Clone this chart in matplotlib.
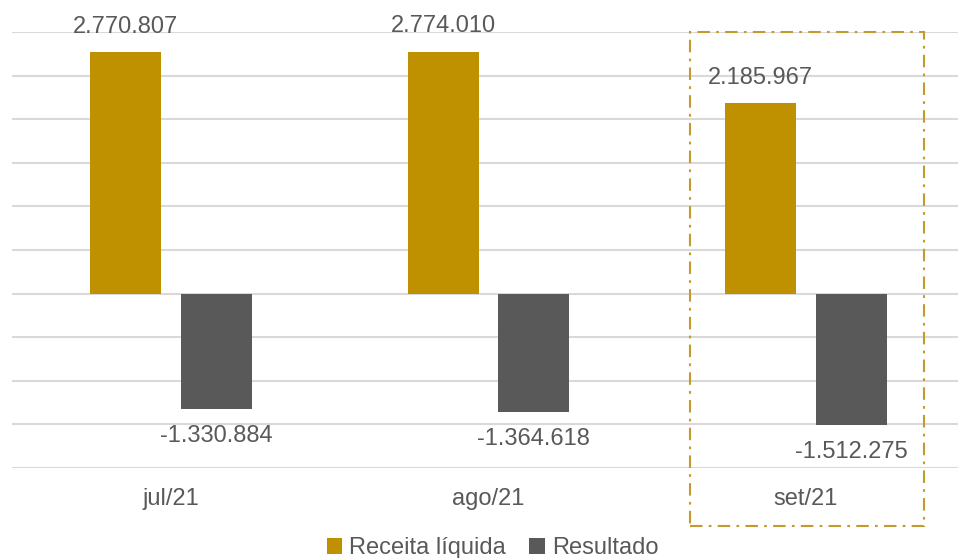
import matplotlib
matplotlib.use("Agg")
import matplotlib.pyplot as plt
from matplotlib.patches import Patch, Rectangle
import numpy as np

categories = ["jul/21", "ago/21", "set/21"]
receita = [2770807, 2774010, 2185967]
resultado = [-1330884, -1364618, -1512275]
series_names = ["Receita líquida", "Resultado"]

GOLD = "#BF9000"
GRAY = "#595959"
TEXT = "#595959"

def fmt(v):
    s = f"{abs(v):,}".replace(",", ".")
    return ("-" if v < 0 else "") + s

plt.rcParams["font.family"] = ["Liberation Sans", "DejaVu Sans"]

W, H = 958, 558
fig = plt.figure(figsize=(W / 100, H / 100), dpi=100)
# axes in pixel coords: x 12.3..964.75, y 32.3..467.7
x0, x1 = 12.3, 964.75
y0, y1 = 32.3, 467.7
ax = fig.add_axes([x0 / W, 1 - y1 / H, (x1 - x0) / W, (y1 - y0) / H])

x = np.arange(len(categories))
bw = 0.224
off = 0.1425
ax.bar(x - off, receita, bw, color=GOLD, zorder=3)
ax.bar(x + off, resultado, bw, color=GRAY, zorder=3)

ax.set_xlim(-0.5, len(categories) - 0.5)
ax.set_ylim(-2000000, 3000000)
ax.set_yticks(np.arange(-2000000, 3000001, 500000))
ax.yaxis.grid(True, color="#D9D9D9", linewidth=1.5, zorder=0)
ax.set_axisbelow(True)
ax.tick_params(axis="y", left=False, labelleft=False)
ax.set_xticks(x)
ax.set_xticklabels(categories, fontsize=17, color=TEXT)
ax.tick_params(axis="x", bottom=False, pad=11)
for s in ax.spines.values():
    s.set_visible(False)

for xi, v in zip(x, receita):
    ax.annotate(fmt(v), (xi - off, v), xytext=(0, 18.4), textcoords="offset points",
                ha="center", va="center", fontsize=17, color=TEXT, zorder=5)
for xi, v in zip(x, resultado):
    ax.annotate(fmt(v), (xi + off, v), xytext=(0, -19.4), textcoords="offset points",
                ha="center", va="center", fontsize=17, color=TEXT, zorder=5)

# highlight box around the last category
rx0, rx1, ry0, ry1 = 690, 924.3, 32.3, 525.7
rect = Rectangle((rx0 / W, 1 - ry1 / H), (rx1 - rx0) / W, (ry1 - ry0) / H,
                 transform=fig.transFigure, fill=False, edgecolor="#C39A2B",
                 linewidth=1.5, linestyle=(0, (6, 3, 1.3, 3)), zorder=10)
fig.add_artist(rect)

handles = [Patch(facecolor=GOLD), Patch(facecolor=GRAY)]
fig.legend(handles, series_names, loc="center", bbox_to_anchor=(492.5 / W, 1 - 548 / H),
           ncol=2, frameon=False, fontsize=17, handlelength=0.65, handleheight=0.65,
           handletextpad=0.3, columnspacing=1.0, labelcolor=TEXT, borderpad=0)

fig.savefig("out.png", dpi=100)
